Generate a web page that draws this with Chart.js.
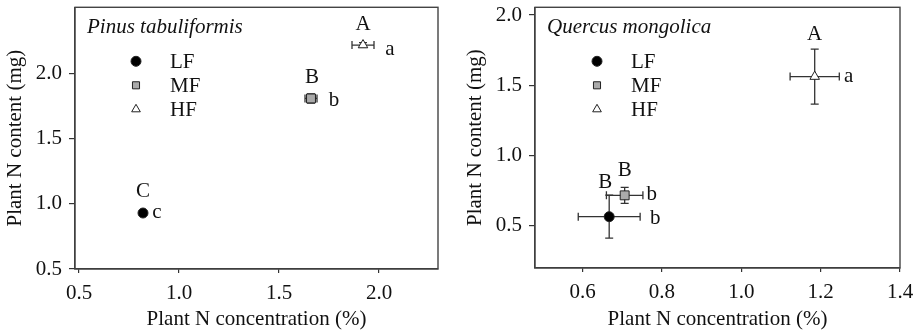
<!DOCTYPE html>
<html>
<head>
<meta charset="utf-8">
<script src="https://cdn.jsdelivr.net/npm/chart.js@4.4.1/dist/chart.umd.min.js"></script>
<style>
  body { margin: 0; background: #fff; }
  .panel { position: absolute; top: 0; }
</style>
</head>
<body>
<div class="panel" style="left:0"><canvas id="pinus" width="460" height="333"></canvas></div>
<div class="panel" style="left:460px"><canvas id="quercus" width="461" height="333"></canvas></div>
<script>
// treatment groups
const groups = ['LF', 'MF', 'HF'];

// Pinus tabuliformis
const pinusConc = [0.82, 1.66, 1.92];
const pinusConcErr = [0.012, 0.03, 0.055];
const pinusContent = [0.93, 1.81, 2.22];
const pinusContentErr = [0.012, 0.035, 0.018];
const pinusUpper = ['C', 'B', 'A'];
const pinusLower = ['c', 'b', 'a'];
const pinusXTicks = [0.5, 1.0, 1.5, 2.0];
const pinusYTicks = [0.5, 1.0, 1.5, 2.0];

// Quercus mongolica
const quercusConc = [0.667, 0.706, 1.185];
const quercusConcErr = [0.078, 0.046, 0.062];
const quercusContent = [0.565, 0.717, 1.562];
const quercusContentErr = [0.153, 0.057, 0.196];
const quercusUpper = ['B', 'B', 'A'];
const quercusLower = ['b', 'b', 'a'];
const quercusXTicks = [0.6, 0.8, 1.0, 1.2, 1.4];
const quercusYTicks = [0.5, 1.0, 1.5, 2.0];

const serif = '"Liberation Serif", "Times New Roman", serif';
const ink = '#111';
const marks = [
  { shape: 'circle', r: 5, fill: '#000' },
  { shape: 'rect', r: 6.3, fill: '#aaa' },
  { shape: 'triangle', r: 5.5, fill: '#fff' }
];

function drawMark(ctx, shape, r, x, y, fill) {
  ctx.beginPath();
  if (shape === 'circle') {
    ctx.arc(x, y, r, 0, Math.PI * 2);
  } else if (shape === 'rect') {
    const h = r * Math.SQRT1_2;
    ctx.rect(x - h, y - h, 2 * h, 2 * h);
  } else {
    ctx.moveTo(x, y - r);
    ctx.lineTo(x + r * Math.sin(Math.PI / 3), y + r / 2);
    ctx.lineTo(x - r * Math.sin(Math.PI / 3), y + r / 2);
    ctx.closePath();
  }
  ctx.fillStyle = fill;
  ctx.fill();
  ctx.lineWidth = 1;
  ctx.strokeStyle = '#222';
  ctx.stroke();
}

function makeChart(id, s) {
  const datasets = groups.map((g, i) => ({
    label: g,
    data: [{ x: s.conc[i], y: s.content[i] }],
    pointStyle: marks[i].shape,
    pointRadius: marks[i].r,
    backgroundColor: marks[i].fill,
    borderColor: '#222',
    borderWidth: 1
  }));

  const overlay = {
    id: 'overlay',
    beforeDatasetsDraw(chart) {
      const ctx = chart.ctx, xs = chart.scales.x, ys = chart.scales.y;
      ctx.save();
      ctx.strokeStyle = '#333';
      ctx.lineWidth = 1.3;
      for (let i = 0; i < groups.length; i++) {
        const px = xs.getPixelForValue(s.conc[i]);
        const py = ys.getPixelForValue(s.content[i]);
        const x0 = xs.getPixelForValue(s.conc[i] - s.concErr[i]);
        const x1 = xs.getPixelForValue(s.conc[i] + s.concErr[i]);
        const y0 = ys.getPixelForValue(s.content[i] - s.contentErr[i]);
        const y1 = ys.getPixelForValue(s.content[i] + s.contentErr[i]);
        ctx.beginPath();
        ctx.moveTo(x0, py); ctx.lineTo(x1, py);
        ctx.moveTo(x0, py - 4); ctx.lineTo(x0, py + 4);
        ctx.moveTo(x1, py - 4); ctx.lineTo(x1, py + 4);
        ctx.moveTo(px, y0); ctx.lineTo(px, y1);
        ctx.moveTo(px - 4, y0); ctx.lineTo(px + 4, y0);
        ctx.moveTo(px - 4, y1); ctx.lineTo(px + 4, y1);
        ctx.stroke();
      }
      ctx.restore();
    },
    afterDraw(chart) {
      const ctx = chart.ctx, a = chart.chartArea, xs = chart.scales.x, ys = chart.scales.y;
      ctx.save();
      // frame
      ctx.strokeStyle = '#444';
      ctx.lineWidth = 1.4;
      ctx.strokeRect(a.left, a.top, a.right - a.left, a.bottom - a.top);
      // significance letters
      ctx.fillStyle = ink;
      ctx.font = '21px ' + serif;
      ctx.textAlign = 'center';
      ctx.textBaseline = 'middle';
      for (let i = 0; i < groups.length; i++) {
        const px = xs.getPixelForValue(s.conc[i]);
        const py = ys.getPixelForValue(s.content[i]);
        ctx.fillText(s.upper[i], px + s.upperOff[i][0], py + s.upperOff[i][1]);
        ctx.fillText(s.lower[i], px + s.lowerOff[i][0], py + s.lowerOff[i][1]);
      }
      // species title
      ctx.textAlign = 'left';
      ctx.font = 'italic 21px ' + serif;
      ctx.fillText(s.title, a.left + 12, a.top + 20);
      // legend
      ctx.font = '21px ' + serif;
      for (let i = 0; i < groups.length; i++) {
        const ly = a.top + 54 + i * 24;
        drawMark(ctx, marks[i].shape, 5, s.legendX, ly, marks[i].fill);
        ctx.fillStyle = ink;
        ctx.fillText(groups[i], s.legendX + 34, ly + 1);
      }
      ctx.restore();
    }
  };

  const axisFont = { family: serif, size: 21 };
  new Chart(document.getElementById(id), {
    type: 'scatter',
    data: { datasets },
    options: {
      responsive: false,
      animation: false,
      layout: { padding: { top: 4, right: s.padRight, left: 0, bottom: 0 } },
      plugins: { legend: { display: false }, tooltip: { enabled: false } },
      scales: {
        x: {
          type: 'linear', min: s.xMin, max: s.xMax,
          afterBuildTicks: sc => { sc.ticks = s.xTicks.map(v => ({ value: v })); },
          afterFit: sc => { sc.height = s.xHeight; sc.paddingLeft = 0; sc.paddingRight = 0; },
          grid: { drawOnChartArea: false, tickLength: 4, color: '#333', lineWidth: 1.2 },
          border: { display: true, color: '#333', width: 1.2 },
          ticks: { color: ink, font: axisFont, padding: 8, maxRotation: 0, autoSkip: false,
                   callback: v => Number(v).toFixed(1) },
          title: { display: true, text: 'Plant N concentration (%)', color: ink,
                   font: axisFont, padding: { top: 0, bottom: 1 } }
        },
        y: {
          type: 'linear', min: s.yMin, max: s.yMax,
          afterBuildTicks: sc => { sc.ticks = s.yTicks.map(v => ({ value: v })); },
          afterFit: sc => { sc.width = 75; sc.paddingTop = 0; sc.paddingBottom = 0; },
          grid: { drawOnChartArea: false, tickLength: 6, color: '#333', lineWidth: 1.2 },
          border: { display: true, color: '#333', width: 1.2 },
          ticks: { color: ink, font: axisFont, padding: 7,
                   callback: v => Number(v).toFixed(1) },
          title: { display: true, text: 'Plant N content (mg)', color: ink,
                   font: axisFont, padding: { top: 3, bottom: 0 } }
        }
      }
    },
    plugins: [overlay]
  });
}

makeChart('pinus', {
  title: 'Pinus tabuliformis',
  conc: pinusConc, concErr: pinusConcErr,
  content: pinusContent, contentErr: pinusContentErr,
  upper: pinusUpper, lower: pinusLower,
  upperOff: [[0, -22], [1, -21], [0, -21]],
  lowerOff: [[14, -1], [23, 2], [27, 4]],
  xTicks: pinusXTicks, yTicks: pinusYTicks,
  xMin: 0.48, xMax: 2.295, yMin: 0.5, yMax: 2.51,
  padRight: 22, xHeight: 64, legendX: 136
});

makeChart('quercus', {
  title: 'Quercus mongolica',
  conc: quercusConc, concErr: quercusConcErr,
  content: quercusContent, contentErr: quercusContentErr,
  upper: quercusUpper, lower: quercusLower,
  upperOff: [[-4, -34], [0, -25], [0, -42]],
  lowerOff: [[46, 2], [27, -1], [34, 0]],
  xTicks: quercusXTicks, yTicks: quercusYTicks,
  xMin: 0.48, xMax: 1.4, yMin: 0.2, yMax: 2.055,
  padRight: 21, xHeight: 65, legendX: 137
});
</script>
</body>
</html>
